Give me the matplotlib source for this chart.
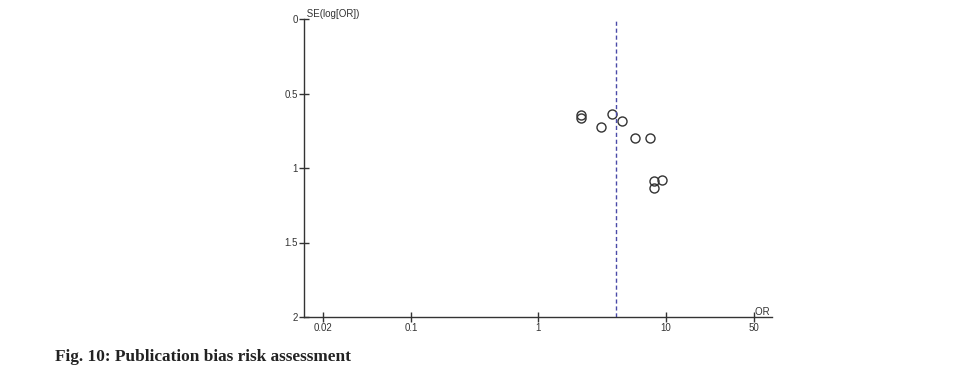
import matplotlib
matplotlib.use("Agg")
import matplotlib.pyplot as plt

# Study estimates
odds_ratios = [2.16, 2.18, 3.78, 4.54, 3.12, 5.77, 7.58, 9.37, 8.05, 8.05]
std_errors = [0.646, 0.664, 0.639, 0.686, 0.724, 0.796, 0.796, 1.078, 1.089, 1.132]
pooled_or = 4.07

x_ticks = [0.02, 0.1, 1, 10, 50]
x_tick_labels = ["0.02", "0.1", "1", "10", "50"]
y_ticks = [0, 0.5, 1, 1.5, 2]
y_tick_labels = ["0", "0.5", "1", "1.5", "2"]

plt.rcParams["font.family"] = ["Liberation Sans", "DejaVu Sans"]

fig = plt.figure(figsize=(9.71, 3.72), dpi=100)
ax = fig.add_axes([304 / 971, 55 / 372, 468 / 971, 298 / 372])

ax.set_xscale("log")
ax.set_xlim(0.0143, 68.8)
ax.set_ylim(2, 0)

ax.plot(odds_ratios, std_errors, linestyle="none", marker="o", markersize=6.5,
        markerfacecolor="none", markeredgecolor="#333333", markeredgewidth=1.0)
ax.axvline(pooled_or, color="#4a4aa8", linestyle=(0, (3, 2)), linewidth=1.0)

ax.set_xticks(x_ticks)
ax.set_xticklabels(x_tick_labels)
ax.minorticks_off()
ax.set_yticks(y_ticks)
ax.set_yticklabels(y_tick_labels)
ax.tick_params(axis="both", direction="inout", length=7, width=1, labelsize=7,
               colors="#333333", pad=1)

for side in ["top", "right"]:
    ax.spines[side].set_visible(False)
for side in ["left", "bottom"]:
    ax.spines[side].set_color("#333333")
    ax.spines[side].set_linewidth(1.0)

ax.text(0.0, 1.0, " SE(log[OR])", transform=ax.transAxes, fontsize=7,
        color="#333333", ha="left", va="bottom")
ax.text(1.0, 0.0, "OR ", transform=ax.transAxes, fontsize=7,
        color="#333333", ha="right", va="bottom")

fig.text(55 / 971, 1 - 357 / 372, "Fig. 10: Publication bias risk assessment",
         family=["Liberation Serif", "DejaVu Serif"], fontweight="bold",
         fontsize=12.4, color="#222222", ha="left", va="center")

fig.savefig("out.png", dpi=100)
